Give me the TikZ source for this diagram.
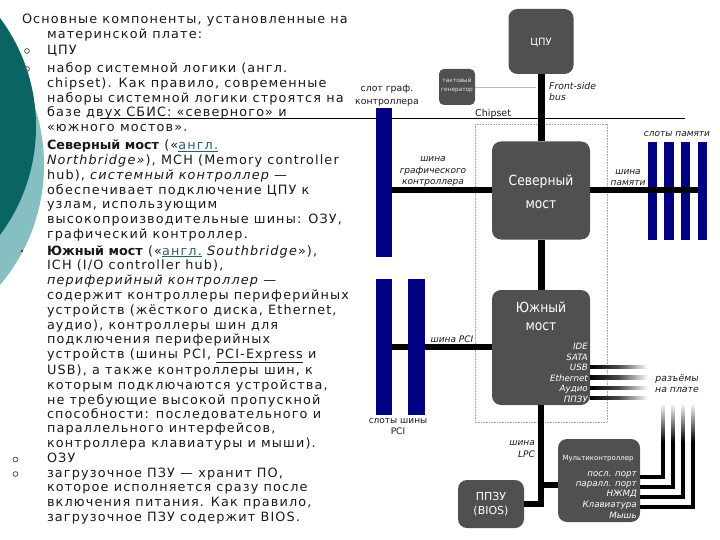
\documentclass[tikz,border=0pt]{standalone}
\usepackage{fontspec}
\newfontfamily\tf[LetterSpace=9]{DejaVu Sans}
\newfontfamily\tfb{DejaVu Sans Bold}
\newfontfamily\df{DejaVu Sans}
\newfontfamily\dfc[FakeStretch=0.88]{DejaVu Sans}
\definecolor{boxgray}{HTML}{505050}
\definecolor{navyb}{HTML}{000080}
\definecolor{tealdark}{HTML}{0A6464}
\definecolor{teallight}{HTML}{86BFC2}
\definecolor{txt}{HTML}{1A1A1A}
\definecolor{lnk}{HTML}{2A5F70}
\definecolor{bul}{HTML}{555555}
\begin{document}
\begin{tikzpicture}[x=1pt,y=-1pt,
  tl/.style={anchor=base west, inner sep=0pt, outer sep=0pt, text=txt, font=\tf\fontsize{12.8}{14}\selectfont},
  blk/.style={fill=boxgray, rounded corners=9pt, inner sep=0pt, draw=none},
  slotbar/.style={fill=navyb, inner sep=0pt, outer sep=0pt, draw=none, anchor=north west},
  bus/.style={line width=6pt, draw=black},
  wl/.style={text=white, inner sep=0pt, anchor=base},
  big/.style={wl, font=\dfc\fontsize{14}{16}\selectfont},
  sml/.style={text=white, inner sep=0pt, anchor=base east, font=\df\itshape\fontsize{8.7}{10}\selectfont},
  lab/.style={inner sep=0pt, anchor=base, text=txt, font=\df\itshape\fontsize{9}{10}\selectfont},
  labu/.style={inner sep=0pt, anchor=base, text=txt, font=\df\fontsize{9.3}{10}\selectfont},
  tiny/.style={inner sep=0pt, anchor=base, text=white!80!gray, font=\df\fontsize{5.8}{6}\selectfont},
  portln/.style={line width=3.6pt, line join=miter, draw=black},
  obul/.style={draw=bul, line width=0.8pt}
]
\useasboundingbox (0,0) rectangle (720,540);
\fill[white] (0,0) rectangle (720,540);
\begin{scope}
  \clip (0,0) rectangle (720,540);
  \fill[teallight] (-141.6,165) circle (185.6pt);
  \fill[tealdark] (-145.5,126.5) circle (181.5pt);
\end{scope}

% ---------- diagram ----------
% chipset line and frame
\draw[black, line width=1.1pt] (100,118.5) -- (685,118.5);
\draw[gray!70, densely dotted, line width=0.6pt] (475,124) rectangle (607,422);
\node[labu, anchor=base west, font=\df\fontsize{9.5}{10}\selectfont] (chip) at (475,117) {Chipset};

% boxes
\node[blk, minimum width=65pt, minimum height=65pt] (cpu) at (541,41.5) {};
\node[blk, minimum width=98pt, minimum height=98pt] (nb) at (541,190.5) {};
\node[blk, minimum width=98pt, minimum height=115pt] (sb) at (541,347.5) {};
\node[blk, minimum width=82pt, minimum height=83pt] (mc) at (599,480.5) {};
\node[blk, minimum width=66pt, minimum height=48pt] (bios) at (491,504) {};
\node[blk, rounded corners=5pt, minimum width=36pt, minimum height=36pt] (clk) at (457,87) {};

% box labels
\node[wl, font=\df\fontsize{10}{12}\selectfont] (cpul) at (541,45.7) {ЦПУ};
\node[big] (nbl1) at (541,186) {Северный};
\node[big] (nbl2) at (541,208) {мост};
\node[big] (sbl1) at (541,312) {Южный};
\node[big] (sbl2) at (541,330) {мост};
\node[wl, font=\df\fontsize{11}{12}\selectfont] (bl1) at (491,500.5) {ППЗУ};
\node[wl, font=\df\fontsize{11}{12}\selectfont] (bl2) at (491,514) {(BIOS)};
\node[tiny] (ck1) at (457,83) {тактовый};
\node[tiny] (ck2) at (457,91.5) {генератор};
\node[wl, font=\df\fontsize{7}{8}\selectfont] (mcl) at (598,460) {Мультиконтроллер};

\node[sml] (s1) at (588,349.5) {IDE};
\node[sml] (s2) at (588,360) {SATA};
\node[sml] (s3) at (588,370.5) {USB};
\node[sml] (s4) at (588,381) {Ethernet};
\node[sml] (s5) at (588,391.5) {Аудио};
\node[sml] (s6) at (588,402) {ППЗУ};

\node[sml] (m1l) at (637,476) {посл. порт};
\node[sml] (m2l) at (637,486.5) {паралл. порт};
\node[sml] (m3l) at (637,496.5) {НЖМД};
\node[sml] (m4l) at (637,507) {Клавиатура};
\node[sml] (m5l) at (637,518) {Мышь};

% slots
\node[slotbar, minimum width=16pt, minimum height=149pt] (gs) at (376,108) {};
\node[slotbar, minimum width=16pt, minimum height=136pt] (pci1) at (376,279) {};
\node[slotbar, minimum width=9.2pt, minimum height=98pt] (ms1) at (647.7,142) {};
\node[slotbar, minimum width=9.2pt, minimum height=98pt] (ms2) at (664.3,142) {};
\node[slotbar, minimum width=9.2pt, minimum height=98pt] (ms3) at (681,142) {};
\node[slotbar, minimum width=9.2pt, minimum height=98pt] (ms4) at (697.7,142) {};

% buses
\draw[line width=7pt] (cpu.south) -- (nb.north);
\draw[line width=7pt] (nb.south) -- (sb.north);
\draw[bus] (gs.east |- nb.west) -- (nb.west);
\draw[bus] (nb.east) -- (ms4.west |- nb.east);
\coordinate (pcib) at (392,347);
\draw[bus] (pcib) -- (sb.west |- pcib);
\node[slotbar, minimum width=17pt, minimum height=136pt] (pci2) at (408,279) {};
\coordinate (fsbtap) at (536,87);
\draw[gray!55, line width=0.8pt] (clk.east) -- (fsbtap);

% LPC
\coordinate (lpcm) at (541,485);
\draw[bus, line join=miter] (sb.south) -- (sb.south |- bios.east) -- (bios.east);
\draw[bus] (lpcm) -- (mc.west |- lpcm);

% south bridge connectors (fading)
\foreach \yy in {367,377.5,388,398}{
  \shade[left color=black, right color=white, middle color=black!70] (590,\yy-1.6) rectangle (648,\yy+1.6);
}
% multicontroller port lines
\foreach \yy/\xx in {477/663,487/673,497/683,507/693}{
  \draw[portln] (mc.east |- 0,\yy) -- (\xx,\yy) -- (\xx,441);
  \shade[top color=white, bottom color=black] (\xx-1.8,403) rectangle (\xx+1.8,442);
}

% diagram labels
\node[labu] (gsl1) at (387,91.5) {слот граф.};
\node[labu] (gsl2) at (387,104.5) {контроллера};
\node[lab, anchor=base west, font=\df\itshape\fontsize{9.3}{10}\selectfont] (fsb1) at (549,89.5) {Front-side};
\node[lab, anchor=base west, font=\df\itshape\fontsize{9.3}{10}\selectfont] (fsb2) at (549,101) {bus};
\node[lab] (gb1) at (433,162) {шина};
\node[lab] (gb2) at (433,173.5) {графического};
\node[lab] (gb3) at (433,185) {контроллера};
\node[lab] (mb1) at (628,175) {шина};
\node[lab] (mb2) at (628,185.5) {памяти};
\node[lab] (msl) at (677,137) {слоты памяти};
\node[lab] (pcil) at (452,342) {шина PCI};
\node[labu, font=\df\fontsize{9}{10}\selectfont] (psl1) at (398,423.5) {слоты шины};
\node[labu, font=\df\fontsize{9}{10}\selectfont] (psl2) at (398,434.5) {PCI};
\node[lab, font=\df\itshape\fontsize{9.3}{10}\selectfont] (rz1) at (677,381) {разъёмы};
\node[lab, font=\df\itshape\fontsize{9.3}{10}\selectfont] (rz2) at (677,392) {на плате};
\node[lab, anchor=base east] (lpc1) at (535,445) {шина};
\node[lab, anchor=base east] (lpc2) at (535,457) {LPC};

% ---------- left text ----------
\draw[obul] (27,51) circle (2.4pt);
\draw[obul] (27,69) circle (2.4pt);
\fill[txt] (22,251) circle (1.2pt);
\draw[obul] (15.5,459.5) circle (2.4pt);
\draw[obul] (15.5,474) circle (2.4pt);

\node[tl] (l1) at (22,24) {Основные компоненты, установленные на};
\node[tl] (l2) at (47,38.8) {материнской плате:};
\node[tl] (l3) at (47,54.5) {ЦПУ};
\node[tl] (l4) at (47,73) {набор системной логики (англ.};
\node[tl] (l5) at (47,87.8) {chipset). Как правило, современные};
\node[tl] (l6) at (47,102.6) {наборы системной логики строятся на};
\node[tl] (l7) at (47,117) {базе двух СБИС: «северного» и};
\node[tl] (l8) at (47,131.8) {«южного мостов».};
\node[tl] (l9) at (47,150) {{\tfb Северный мост} («\textcolor{lnk}{\underline{англ.}}};
\node[tl] (l10) at (47,164.8) {\textit{Northbridge»}), MCH (Memory controller};
\node[tl] (l11) at (47,179.6) {hub), \textit{системный контроллер —}};
\node[tl] (l12) at (47,194.2) {обеспечивает подключение ЦПУ к};
\node[tl] (l13) at (47,209) {узлам, использующим};
\node[tl] (l14) at (47,223.8) {высокопроизводительные шины: ОЗУ,};
\node[tl] (l15) at (47,238.6) {графический контроллер.};
\node[tl] (l16) at (47,255) {{\tfb Южный мост} («\textcolor{lnk}{\underline{англ.}} \textit{Southbridge}»),};
\node[tl] (l17) at (47,269.8) {ICH (I/O controller hub),};
\node[tl] (l18) at (47,284.6) {\textit{периферийный контроллер —}};
\node[tl] (l19) at (47,299.4) {содержит контроллеры периферийных};
\node[tl] (l20) at (47,314.2) {устройств (жёсткого диска, Ethernet,};
\node[tl] (l21) at (47,329) {аудио), контроллеры шин для};
\node[tl] (l22) at (47,343.8) {подключения периферийных};
\node[tl] (l23) at (47,358.6) {устройств (шины PCI, \underline{PCI-Express} и};
\node[tl] (l24) at (47,374.5) {USB), а также контроллеры шин, к};
\node[tl] (l25) at (47,389.5) {которым подключаются устройства,};
\node[tl] (l26) at (47,404) {не требующие высокой пропускной};
\node[tl] (l27) at (47,418.3) {способности: последовательного и};
\node[tl] (l28) at (47,432.8) {параллельного интерфейсов,};
\node[tl] (l29) at (47,447.4) {контроллера клавиатуры и мыши).};
\node[tl] (l30) at (47,462.2) {ОЗУ};
\node[tl] (l31) at (47,477) {загрузочное ПЗУ — хранит ПО,};
\node[tl] (l32) at (47,491.8) {которое исполняется сразу после};
\node[tl] (l33) at (47,506.6) {включения питания. Как правило,};
\node[tl] (l34) at (47,521.4) {загрузочное ПЗУ содержит BIOS.};
\end{tikzpicture}
\end{document}
